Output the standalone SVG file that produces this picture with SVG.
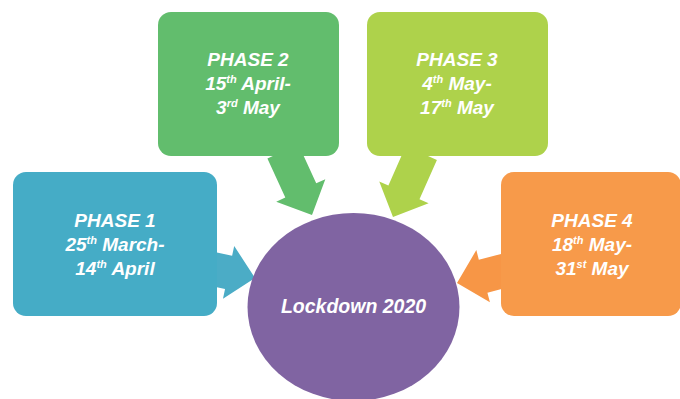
<svg xmlns="http://www.w3.org/2000/svg" width="680" height="399" viewBox="0 0 680 399">
  <style>
    .lbl { font-family: "Liberation Sans", Arial, sans-serif; font-weight: bold; font-style: italic; font-size: 19px; fill: #ffffff; text-anchor: middle; }
    .sup { font-size: 11px; }
    .hub { font-size: 19.5px; }
  </style>
  <defs>
    <!-- block arrow pointing along +x, tip at x=0 -->
    <polygon id="blockArrow" points="-70,-17 -27,-17 -27,-27 0,0 -27,27 -27,17 -70,17"/>
  </defs>
  <rect width="680" height="399" fill="#ffffff"/>

  <g id="connectors">
    <use href="#blockArrow" fill="#4BACC6" transform="translate(255,278) rotate(12)"/>
    <use href="#blockArrow" fill="#62BD6D" transform="translate(312,215) rotate(65.4)"/>
    <use href="#blockArrow" fill="#AED24B" transform="translate(393,217) rotate(113.9)"/>
    <use href="#blockArrow" fill="#F79646" transform="translate(457,283) rotate(165.4)"/>
  </g>

  <g id="phase1">
    <rect x="13" y="172" width="204" height="144" rx="13" fill="#45ACC6"/>
    <text class="lbl" x="115" y="227">PHASE 1</text>
    <text class="lbl" x="115" y="251">25<tspan class="sup" dy="-7">th</tspan><tspan dy="7"> March-</tspan></text>
    <text class="lbl" x="115" y="275">14<tspan class="sup" dy="-7">th</tspan><tspan dy="7"> April</tspan></text>
  </g>

  <g id="phase2">
    <rect x="158" y="12" width="181" height="144" rx="13" fill="#62BD6D"/>
    <text class="lbl" x="248" y="66">PHASE 2</text>
    <text class="lbl" x="248" y="90">15<tspan class="sup" dy="-7">th</tspan><tspan dy="7"> April-</tspan></text>
    <text class="lbl" x="248" y="114">3<tspan class="sup" dy="-7">rd</tspan><tspan dy="7"> May</tspan></text>
  </g>

  <g id="phase3">
    <rect x="367" y="12" width="181" height="144" rx="13" fill="#AED24B"/>
    <text class="lbl" x="457" y="66">PHASE 3</text>
    <text class="lbl" x="457" y="90">4<tspan class="sup" dy="-7">th</tspan><tspan dy="7"> May-</tspan></text>
    <text class="lbl" x="457" y="114">17<tspan class="sup" dy="-7">th</tspan><tspan dy="7"> May</tspan></text>
  </g>

  <g id="phase4">
    <rect x="501" y="172" width="180" height="144" rx="13" fill="#F79A4A"/>
    <text class="lbl" x="592" y="227">PHASE 4</text>
    <text class="lbl" x="592" y="251">18<tspan class="sup" dy="-7">th</tspan><tspan dy="7"> May-</tspan></text>
    <text class="lbl" x="592" y="275">31<tspan class="sup" dy="-7">st</tspan><tspan dy="7"> May</tspan></text>
  </g>

  <g id="lockdown">
    <ellipse cx="353.5" cy="307" rx="106" ry="94" fill="#8064A2"/>
    <text class="lbl hub" x="353.5" y="313">Lockdown 2020</text>
  </g>
</svg>
